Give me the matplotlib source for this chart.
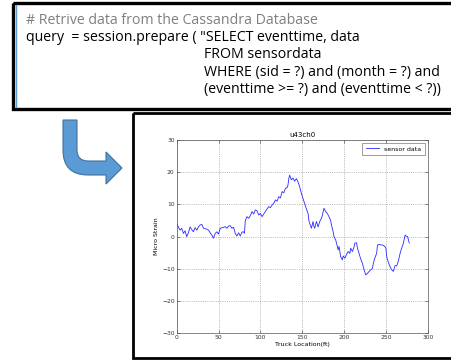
import numpy as np
import matplotlib
matplotlib.use("Agg")
import matplotlib.pyplot as plt
from matplotlib.path import Path
from matplotlib.patches import PathPatch, Rectangle

# code snippet shown above the chart
code_lines = [
    "# Retrive data from the Cassandra Database",
    "query  = session.prepare ( \"SELECT eventtime, data",
    "FROM sensordata",
    "WHERE (sid = ?) and (month = ?) and",
    "(eventtime >= ?) and (eventtime < ?))",
]

# sensor trace
loc = [0, 2, 4, 6, 8, 10, 12, 14, 16, 18, 20, 22, 24, 26, 28, 30, 32, 35, 38, 40,
       42, 44, 46, 48, 50, 52, 55, 58, 60, 62, 64, 66, 68, 70, 72, 74, 76, 78, 80,
       81, 82, 84, 86, 88, 90, 92, 94, 96, 98, 100, 102, 104, 106, 108, 110, 112,
       114, 116, 118, 120, 122, 124, 126, 128, 130, 132, 133, 134, 135, 137, 139,
       141, 143, 145, 147, 149, 151, 153, 155, 157, 158, 159, 161, 163, 164, 165,
       167, 169, 171, 173, 174, 176, 178, 180, 182, 184, 185, 187, 188, 190, 191,
       193, 194, 196, 198, 199, 201, 203, 205, 207, 208, 210, 212, 213, 215, 216,
       218, 220, 222, 224, 226, 228, 230, 232, 234, 235, 237, 239, 240, 242, 244,
       246, 248, 250, 251, 253, 255, 257, 259, 260, 261, 263, 265, 267, 269, 271,
       273, 274, 276, 278]
strain = [4.1, 3.0, 2.0, 2.6, 1.0, 1.8, 0.0, 1.2, 3.0, 2.2, 1.5, 2.8, 2.0, 3.0, 3.6, 3.8,
          2.6, 2.4, 2.0, 1.2, 0.5, -0.5, 1.0, 1.5, 0.8, 2.6, 2.8, 3.1, 2.6, 3.3, 3.4,
          2.6, 2.9, 1.0, 0.2, 1.2, 0.2, 1.4, 1.5, 1.0, 5.0, 6.2, 5.7, 6.5, 7.8, 7.0,
          8.3, 8.0, 6.7, 7.2, 6.2, 7.0, 7.8, 8.6, 9.3, 9.0, 9.8, 10.3, 11.4, 11.0,
          12.4, 12.0, 14.0, 13.6, 15.0, 15.2, 16.0, 18.0, 19.1, 17.6, 18.2, 17.2, 18.0,
          17.0, 15.5, 13.4, 11.8, 10.3, 8.6, 7.2, 5.0, 4.1, 2.6, 4.7, 3.2, 2.6, 4.7,
          3.0, 4.7, 5.7, 6.5, 8.8, 7.8, 7.2, 6.2, 5.0, 3.6, 1.5, 0.0, -1.0, -2.0, -4.1,
          -3.0, -6.2, -7.2, -6.0, -6.7, -5.5, -4.6, -5.2, -3.6, -4.6, -3.2, -2.0,
          -1.9, -3.5, -5.2, -7.0, -8.3, -10.3, -11.9, -11.4, -10.8, -10.3, -9.8,
          -8.3, -6.5, -5.2, -2.6, -2.4, -2.6, -2.6, -2.9, -3.5, -6.2, -8.0, -9.3,
          -10.3, -10.8, -9.8, -9.0, -9.1, -7.5, -5.2, -3.5, -2.0, 0.5, 0.2, 0.0, -2.0]

fig = plt.figure(figsize=(4.51, 3.60), dpi=100)

# background layer in pixel coordinates
bg = fig.add_axes([0, 0, 1, 1])
bg.set_xlim(0, 451)
bg.set_ylim(360, 0)
bg.axis("off")

# code box
bg.add_patch(Rectangle((13, 3), 445, 106, fill=False, edgecolor="black", lw=2.4))
bg.plot([15.5, 15.5], [5, 107], color="#5b9bd5", lw=1.0)
code_font = ["Open Sans", "DejaVu Sans"]
fs = 10.2
bg.text(26, 23.5, code_lines[0], fontsize=fs, family=code_font, color="#7f7f7f")
bg.text(26, 41, code_lines[1], fontsize=fs, family=code_font, color="black")
for i, s in enumerate(code_lines[2:]):
    bg.text(204, 58.5 + 17.5 * i, s, fontsize=fs, family=code_font, color="black")

# curved arrow
verts = [(63, 120), (77, 120), (77, 150), (77, 161), (88, 161), (106, 161),
         (106, 152), (122, 168), (106, 184), (106, 175), (88, 175), (63, 175),
         (63, 150), (63, 120)]
codes = [Path.MOVETO, Path.LINETO, Path.LINETO, Path.CURVE3, Path.CURVE3,
         Path.LINETO, Path.LINETO, Path.LINETO, Path.LINETO, Path.LINETO,
         Path.LINETO, Path.CURVE3, Path.CURVE3, Path.CLOSEPOLY]
bg.add_patch(PathPatch(Path(verts, codes), facecolor="#5b9bd5",
                       edgecolor="#41719c", lw=0.8))

# chart frame
bg.add_patch(Rectangle((133, 113), 330, 245, fill=False, edgecolor="black", lw=2))

# the chart itself
ax = fig.add_axes([0.3918, 0.0742, 0.5565, 0.537])
ax.plot(loc, strain, color="#2a2aff", lw=0.6, label="sensor data")
ax.set_xlim(0, 300)
ax.set_ylim(-30, 30)
ax.set_xticks([0, 50, 100, 150, 200, 250, 300])
ax.set_yticks([-30, -20, -10, 0, 10, 20, 30])
ax.grid(True, color="#888888", linestyle=":", lw=0.5)
ax.tick_params(direction="in", labelsize=4.3, length=2, width=0.4, pad=1.5,
               top=True, right=True, colors="#333333")
for sp in ax.spines.values():
    sp.set_linewidth(0.5)
    sp.set_color("#555555")
ax.set_title("u43ch0", fontsize=5, pad=2)
ax.set_xlabel("Truck Location(ft)", fontsize=4.5, labelpad=1)
ax.set_ylabel("Micro Strain", fontsize=4.5, labelpad=2)
leg = ax.legend(loc="upper right", fontsize=4.5, handlelength=2.2,
                borderpad=0.5, fancybox=False, borderaxespad=0.5)
leg.get_frame().set_edgecolor("#555555")
leg.get_frame().set_linewidth(0.5)

fig.savefig("out.png", dpi=100)
